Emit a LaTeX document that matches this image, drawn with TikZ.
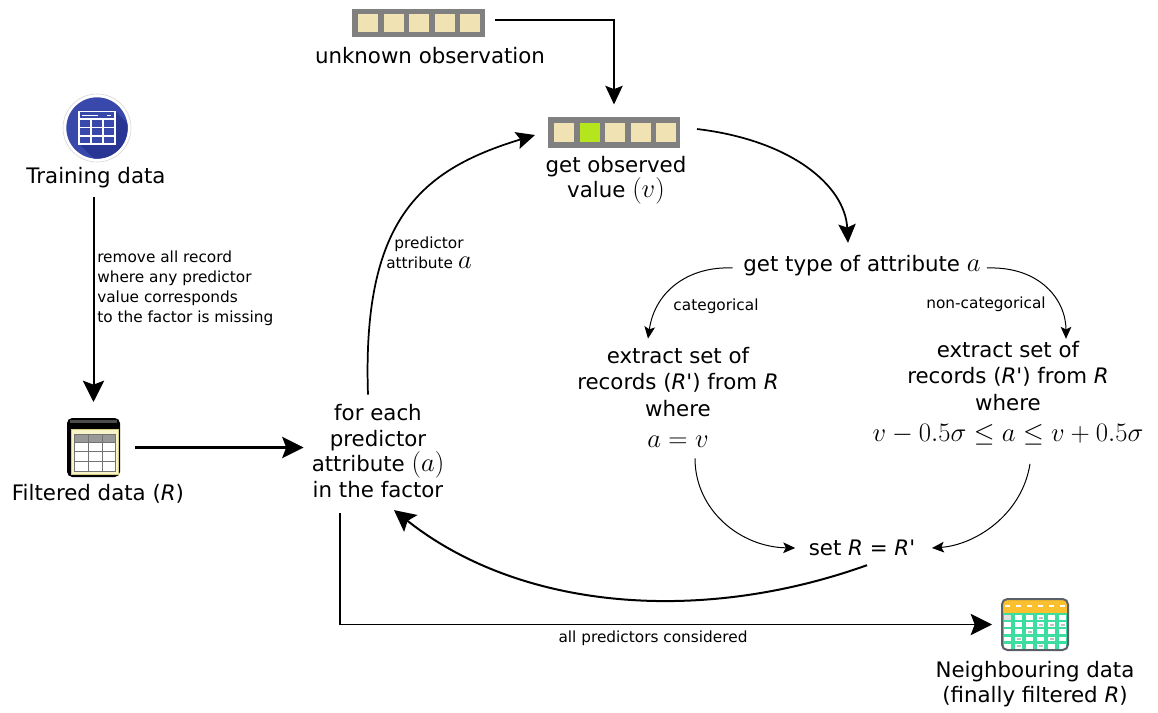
\RequirePackage{fix-cm}
\documentclass[tikz,border=0pt]{standalone}
\usepackage{fontspec}
\setmainfont{DejaVu Sans}
\usetikzlibrary{arrows.meta}
\definecolor{indigo}{RGB}{57,73,171}
\definecolor{indigodark}{RGB}{40,53,147}
\definecolor{bargray}{RGB}{128,128,128}
\definecolor{beige}{RGB}{240,226,178}
\definecolor{obsgreen}{RGB}{181,230,29}
\definecolor{hdrorange}{RGB}{251,192,45}
\definecolor{mint}{RGB}{60,222,160}
\definecolor{icongray}{RGB}{90,96,104}
\definecolor{panelyellow}{RGB}{248,244,200}
\definecolor{panelborder}{RGB}{215,205,130}
\newcommand{\m}[1]{{\fontsize{20}{20}\selectfont$#1$}}
\tikzset{
  lbl/.style={font=\fontsize{16}{19.3}\selectfont, align=center, inner sep=0pt},
  boxlbl/.style={font=\fontsize{16}{20}\selectfont, align=center, inner sep=0pt},
  small/.style={font=\fontsize{11.5}{15}\selectfont, align=center, inner sep=0pt},
  big/.style={line width=1.5pt, -{Stealth[length=16pt,width=16pt,inset=3pt]}},
  mid/.style={line width=1.3pt, -{Stealth[length=14pt,width=13pt,inset=2.5pt]}},
  thin/.style={line width=0.75pt, -{Stealth[length=9pt,width=8pt,inset=2pt]}},
  iconbox/.style={inner sep=0pt, outer sep=0pt}
}
\begin{document}
\begin{tikzpicture}[x=0.75pt,y=-0.75pt]
\useasboundingbox (0,0) rectangle (1158,713);

% ---------- Training data icon ----------
\node[iconbox, circle, minimum size=51pt, fill=white, draw=black!15, line width=0.5pt] (tricon) at (97,128) {};
\fill[indigo] (tricon.center) circle[radius=23pt];
\begin{scope}
  \clip (tricon.center) circle[radius=23pt];
  \fill[indigodark] (79,111) -- (115,111) -- (165,161) -- (165,193) -- (129,193) -- (79,144) -- cycle;
\end{scope}
\fill[indigo] (79,111) rectangle (115,144);
\draw[white, line width=1.3pt] (79,111.5) rectangle (115,144);
\draw[white, line width=1.3pt] (79,119) -- (115,119) (79,127.5) -- (115,127.5) (79,136) -- (115,136)
  (91,119) -- (91,144) (103,119) -- (103,144);
\draw[white, line width=0.8pt] (82,115.3) -- (98,115.3) (107,115.3) -- (111,115.3);
\node[lbl] (train) at (96,178) {Training data};

% ---------- Filtered data icon ----------
\node[iconbox, minimum width=39.75pt, minimum height=44.25pt, fill=black, rounded corners=4pt] (filt) at (93.5,447.5) {};
\fill[black!70] (70,419.5) rectangle (117,423);
\filldraw[fill=panelyellow, draw=panelborder, line width=0.6pt] (71,429) rectangle (118,474);
\fill[white] (74,442) rectangle (115,471);
\filldraw[fill=black!40, draw=black!55, line width=0.5pt] (74,434) rectangle (115,442);
\draw[black!55, line width=0.5pt] (74,442) rectangle (115,471) (74,451.5) -- (115,451.5) (74,461) -- (115,461)
  (88,434) -- (88,471) (102,434) -- (102,471);
\node[lbl] (filtlbl) at (98,494) {Filtered data (\textit{R})};

% ---------- Unknown observation bar ----------
\node[iconbox, minimum width=99.75pt, minimum height=21pt, fill=bargray] (unk) at (418.5,23) {};
\foreach \i in {0,...,4} \fill[beige] ({358+\i*25.5},14) rectangle ++(20,18);
\node[lbl] (unklbl) at (430,56) {unknown observation};

% ---------- Observed bar ----------
\node[iconbox, minimum width=99pt, minimum height=23.25pt, fill=bargray] (obs) at (614,132.5) {};
\foreach \i in {0,2,3,4} \fill[beige] ({554+\i*25.5},123) rectangle ++(20,19);
\fill[obsgreen] (579.5,123) rectangle ++(20,19);
\node[lbl, font=\fontsize{16}{18.75}\selectfont] (obslbl) at (616,180.5) {get observed\\value \m{(v)}};

% ---------- Text nodes ----------
\node[small, align=left, anchor=west] (rmlbl) at (97,288) {remove all record\\where any predictor\\value corresponds\\to the factor is missing};
\node[lbl] (foreach) at (378,451) {for each\\predictor\\attribute \m{(a)}\\in the factor};
\node[small] (predlbl) at (429,253) {predictor\\attribute \m{\fontsize{14.5}{14.5}\selectfont a}};
\node[lbl] (gettype) at (862,266) {get type of attribute \m{a}};
\node[small] (catlbl) at (716,306) {categorical};
\node[small] (noncatlbl) at (986,304) {non-categorical};
\node[boxlbl] (lbox) at (678,397) {extract set of\\records (\textit{R}\textquotesingle) from \textit{R}\\where\\[3pt]\m{a=v}};
\node[boxlbl] (rbox) at (1008,393) {extract set of\\records (\textit{R}\textquotesingle) from \textit{R}\\where\\[3pt]\m{v-0.5\sigma\leq a\leq v+0.5\sigma}};
\node[lbl] (setR) at (862,548) {set \textit{R} = \textit{R}\textquotesingle};
\node[small] (alllbl) at (653,638) {all predictors considered};

% ---------- Neighbouring data icon ----------
\node[iconbox, minimum width=49.5pt, minimum height=38.25pt] (nb) at (1035,624.5) {};
\begin{scope}
  \clip[rounded corners=4pt] (1002,599) rectangle (1068,650);
  \fill[mint] (1002,599) rectangle (1068,650);
  \fill[hdrorange] (1002,599) rectangle (1068,613);
  \foreach \c in {1007,1018,1029,1040,1051,1062} \fill[white] ({\c-2.5},605) rectangle ++(5,2);
  \foreach \r in {0,...,4} {
    \foreach \c in {1002,1013,1024,1035,1046,1057} {
      \fill[white] ({\c+1.6},{615+\r*7.2}) rectangle ++(7.8,4.8);
    }
  }
  \fill[black!12] (1003.6,615) rectangle ++(7.8,4.8);
  \foreach \p in {(1039,617),(1050,624),(1061,624),(1028,631),(1017,638),(1050,638),(1017,645),(1039,645),(1039,624)}
    \fill[black!25] \p rectangle ++(4,1.6);
\end{scope}
\draw[icongray, line width=1.5pt, rounded corners=4pt] (1002,599) rectangle (1068,650);
\node[lbl, font=\fontsize{16}{18.75}\selectfont] (nblbl) at (1035,684.5) {Neighbouring data\\(finally filtered \textit{R})};

% ---------- Connectors ----------
\draw[big, shorten <=6pt, shorten >=12pt] (filt.north |- train.south) -- (filt.north);
\draw[big, line width=1.8pt, shorten <=11.5pt, shorten >=6pt] (filt.east) -- (filt.east -| foreach.west);
\draw[mid] ([xshift=-7.5pt,yshift=7pt]foreach.north) .. controls (362,220) and (420,170) .. ([xshift=-9.75pt,yshift=-1.9pt]obs.west);
\draw[mid, shorten <=7.5pt, shorten >=9.4pt] ([yshift=2.25pt]unk.east) -| (obs.north);
\draw[mid] ([xshift=12.75pt,yshift=2.6pt]obs.east) .. controls (790,140) and (845,185) .. ([xshift=-10.5pt,yshift=9.4pt]gettype.north);
\draw[thin] ([xshift=-8pt,yshift=-1.5pt]gettype.west) .. controls (690,266) and (655,290) .. ([xshift=-22.5pt,yshift=6pt]lbox.north);
\draw[thin] ([xshift=4.5pt,yshift=-1.5pt]gettype.east) .. controls (1040,266) and (1066,300) .. ([xshift=43.5pt,yshift=1.5pt]rbox.north);
\draw[thin] ([xshift=12.75pt,yshift=-8.25pt]lbox.south) .. controls (695,510) and (740,547) .. ([xshift=-10pt]setR.west);
\draw[thin] ([xshift=16.5pt,yshift=-14pt]rbox.south) .. controls (1022,515) and (975,545) .. ([xshift=12.4pt]setR.east);
\draw[big] ([xshift=3.75pt,yshift=-6.75pt]setR.south) .. controls (700,625) and (520,610) .. ([xshift=12pt,yshift=-9pt]foreach.south);
\draw[big, line width=1.2pt, shorten <=11pt, shorten >=7.5pt] ([xshift=-28.5pt]foreach.south) |- (nb.west);
\end{tikzpicture}
\end{document}
